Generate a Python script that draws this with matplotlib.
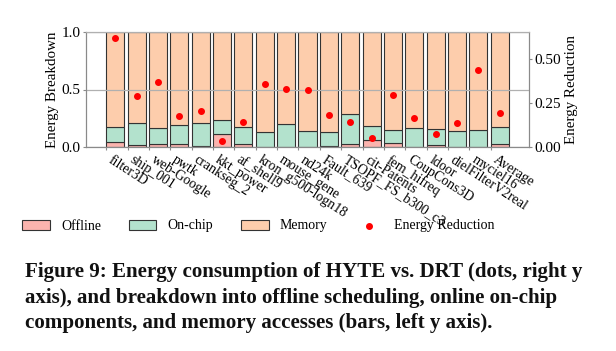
import matplotlib
matplotlib.use("Agg")
import matplotlib.pyplot as plt
import numpy as np

plt.rcParams['font.family'] = ['Liberation Serif', 'DejaVu Serif']

labels = ["filter3D", "ship_001", "web-Google", "pwtk", "crankseg_2", "kkt_power",
          "af_shell9", "kron_g500-logn18", "mouse_gene", "nd24k", "Fault_639",
          "TSOPF_FS_b300_c3", "cit-Patents", "fem_hifreq", "CoupCons3D", "ldoor",
          "dielFilterV2real", "myciel16", "Average"]
offline = [0.047, 0.018, 0.030, 0.023, 0.006, 0.117, 0.030, 0.002, 0.002, 0.002, 0.010,
           0.030, 0.062, 0.038, 0.003, 0.015, 0.003, 0.002, 0.023]
onchip = [0.129, 0.193, 0.131, 0.167, 0.202, 0.118, 0.143, 0.127, 0.197, 0.139, 0.119,
          0.257, 0.123, 0.114, 0.161, 0.143, 0.135, 0.148, 0.153]
memory = [0.824, 0.789, 0.839, 0.810, 0.792, 0.765, 0.827, 0.871, 0.801, 0.859, 0.871,
          0.713, 0.815, 0.848, 0.836, 0.842, 0.862, 0.850, 0.824]
reduction = [0.618, 0.287, 0.369, 0.173, 0.205, 0.034, 0.144, 0.356, 0.327, 0.323, 0.181,
             0.139, 0.049, 0.295, 0.162, 0.076, 0.135, 0.435, 0.192]

c_off = '#fbb4ae'
c_on = '#b3e2cd'
c_mem = '#fdcdac'
spine_c = '#8a8a8a'

fig = plt.figure(figsize=(6.16, 3.51), dpi=100)
ax = fig.add_axes([86/616, 1-147/351, (529-86)/616, (147-32)/351])

x = np.arange(len(labels))
off = np.array(offline); on = np.array(onchip); mem = np.array(memory)
w = 0.85
ekw = dict(edgecolor='#333333', linewidth=0.8, align='edge', width=w)
b1 = ax.bar(x, off, color=c_off, label='Offline', **ekw)
b2 = ax.bar(x, on, bottom=off, color=c_on, label='On-chip', **ekw)
b3 = ax.bar(x, mem, bottom=off+on, color=c_mem, label='Memory', **ekw)

ax.set_ylim(0, 1.0)
ax.set_yticks([0.0, 0.5, 1.0])
ax.set_yticklabels(['0.0', '0.5', '1.0'])
ax.set_axisbelow(False)
ax.yaxis.grid(True, color='#b0b0b0', linewidth=0.9)
ax.set_xticks(x)
ax.set_xticklabels(labels, rotation=-33, ha='left', va='top', fontsize=10,
                   rotation_mode='default')
ax.tick_params(axis='y', labelsize=11, colors='black', color=spine_c, length=2.5, pad=1.5)
ax.tick_params(axis='x', color=spine_c, length=2.5, pad=2)
ax.set_ylabel('Energy Breakdown', fontsize=10.8, labelpad=2)
for s in ['left', 'bottom', 'right', 'top']:
    ax.spines[s].set_color(spine_c)
ax.spines['top'].set_color('#b0b0b0')

ax2 = ax.twinx()
sc = ax2.scatter(x + w/2, reduction, s=16, color='#ff0000', zorder=5,
                 label='Energy Reduction')
ax2.set_ylim(0, 0.65)
ax2.set_yticks([0.0, 0.25, 0.5])
ax2.set_yticklabels(['0.00', '0.25', '0.50'])
ax2.tick_params(axis='y', labelsize=11, color=spine_c, length=2.5, pad=1.5)
ax2.set_ylabel('Energy Reduction', fontsize=10.8, labelpad=3)
for s in ['left', 'bottom', 'right', 'top']:
    ax2.spines[s].set_color(spine_c)
ax2.spines['top'].set_color('#b0b0b0')

fig.legend([b1, b2, b3, sc], ['Offline', 'On-chip', 'Memory', 'Energy Reduction'],
           ncol=4, frameon=False, fontsize=10, loc='center left',
           bbox_to_anchor=(22/616, 1-226/351), borderpad=0, borderaxespad=0,
           handlelength=2.0, columnspacing=2.0, handletextpad=0.8, scatterpoints=1)

cap = ["Figure 9: Energy consumption of HYTE vs. DRT (dots, right y",
       "axis), and breakdown into offline scheduling, online on-chip",
       "components, and memory accesses (bars, left y axis)."]
for i, line in enumerate(cap):
    fig.text(25/616, 1-(272+25.5*i)/351, line, fontsize=15.1, fontweight='bold',
             ha='left', va='center', color='#111111')

fig.savefig('out.png', dpi=100)
